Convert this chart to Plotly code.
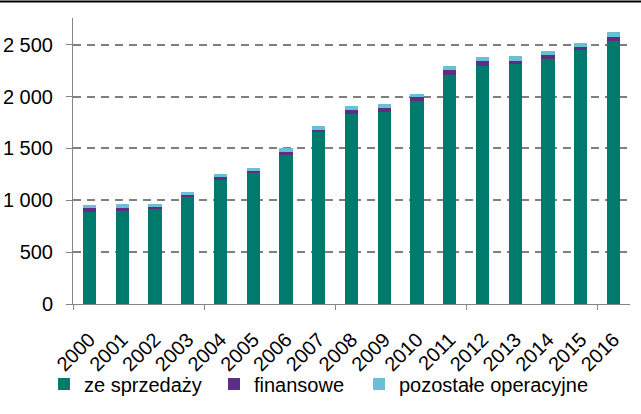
import plotly.graph_objects as go

years = ["2000", "2001", "2002", "2003", "2004", "2005", "2006", "2007", "2008",
         "2009", "2010", "2011", "2012", "2013", "2014", "2015", "2016"]
ze_sprzedazy = [890, 900, 919, 1035, 1196, 1260, 1440, 1658, 1832,
                1851, 1957, 2208, 2295, 2314, 2362, 2449, 2536]
finansowe = [35, 25, 19, 19, 28, 25, 29, 20, 38,
             39, 39, 48, 48, 29, 39, 29, 41]
pozostale = [29, 39, 26, 26, 29, 26, 32, 38, 39,
             38, 29, 39, 38, 48, 38, 38, 45]
series_names = ["ze sprzedaży", "finansowe", "pozostałe operacyjne"]
y_tick_vals = [0, 500, 1000, 1500, 2000, 2500]
y_tick_text = ["0", "500", "1 000", "1 500", "2 000", "2 500"]
x_tick_bounds = [-0.5, 3.5, 7.5, 11.5, 15.5]

W, H = 641, 414
ML, MR, MT, MB = 73, 11, 18, 110
PW, PH = W - ML - MR, H - MT - MB

FONT = "Liberation Sans, Arial, sans-serif"
colors = ["#007A6D", "#5E2D84", "#6BBFD5"]

fig = go.Figure()
for name, vals, col, lg in zip(series_names, [ze_sprzedazy, finansowe, pozostale],
                               colors, ["legend", "legend2", "legend3"]):
    fig.add_trace(go.Bar(x=years, y=vals, name=name, marker=dict(color=col, line=dict(width=0)),
                         legend=lg))

# invisible trace to hold the secondary x axis used for tick marks
fig.add_trace(go.Scatter(x=[-0.5, 16.5], y=[0, 0], xaxis="x2", mode="markers",
                         marker=dict(opacity=0), showlegend=False, hoverinfo="skip"))

leg_common = dict(orientation="h", xref="container", yref="container", xanchor="left",
                  yanchor="middle", y=(H - 384) / H, font=dict(family=FONT, size=20, color="#000000"),
                  bgcolor="rgba(0,0,0,0)", borderwidth=0, tracegroupgap=0)

fig.update_layout(
    width=W, height=H,
    margin=dict(l=ML, r=MR, t=MT, b=MB, pad=0, autoexpand=False),
    paper_bgcolor="white", plot_bgcolor="white",
    barmode="stack", bargap=0.595,
    font=dict(family=FONT, size=20, color="#000000"),
    legend=dict(**leg_common, x=44 / W),
    legend2=dict(**leg_common, x=214 / W),
    legend3=dict(**leg_common, x=359 / W),
    xaxis=dict(type="category", showline=True, linecolor="#868686", linewidth=1,
               ticks="", tickangle=-45, showgrid=False, automargin=False,
               ticklabelstandoff=15,
               tickfont=dict(family=FONT, size=20, color="#000000")),
    xaxis2=dict(overlaying="x", anchor="y", side="bottom", range=[-0.5, 16.5],
                tickmode="array", tickvals=x_tick_bounds, ticks="outside", ticklen=5,
                tickcolor="#868686", tickwidth=1, showticklabels=False, showgrid=False,
                showline=False, zeroline=False, fixedrange=True, automargin=False),
    yaxis=dict(range=[0, 2757], tickmode="array", tickvals=y_tick_vals, ticktext=y_tick_text,
               showline=True, linecolor="#868686", linewidth=1,
               ticks="outside", ticklen=6, tickcolor="#868686",
               showgrid=True, gridcolor="#7F7F7F", gridwidth=2, griddash="8px,6px",
               zeroline=False, ticklabelstandoff=9, automargin=False,
               tickfont=dict(family=FONT, size=20, color="#000000")),
    shapes=[dict(type="line", xref="paper", yref="paper", layer="above",
                 x0=-ML / PW, x1=(W - ML) / PW, y0=1 + (MT - 1.5) / PH, y1=1 + (MT - 1.5) / PH,
                 line=dict(color="#000000", width=2))],
)

fig.write_html("out.html", config={"displayModeBar": False},
               post_script="document.body.style.margin='0';window.scrollTo(0,0);")
